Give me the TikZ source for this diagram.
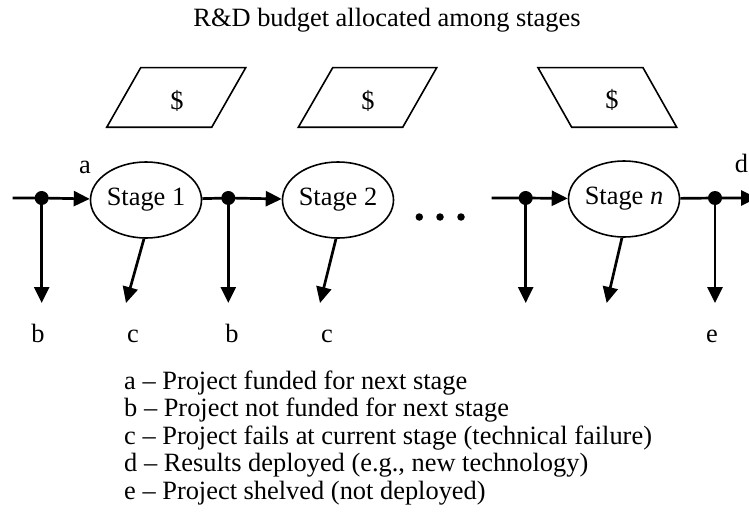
\documentclass[tikz,border=0pt]{standalone}
\usepackage{fontspec}
\setmainfont{Liberation Serif}
\usetikzlibrary{arrows.meta,shapes.geometric}
\begin{document}
\begin{tikzpicture}[x=1pt,y=-1pt,
  txt/.style={font=\fontsize{26.4}{28}\selectfont, inner sep=0pt},
  stagebox/.style={ellipse, draw, line width=1.6pt, minimum width=111pt, minimum height=76pt, inner sep=0pt, font=\fontsize{26.4}{28}\selectfont},
  flow/.style={line width=2.7pt, -{Triangle[length=16pt,width=15pt]}},
  junc/.style={circle, fill, inner sep=0pt, minimum size=14pt},
  para/.style={line width=1.6pt, line join=miter},
  ell/.style={circle, fill, inner sep=0pt, minimum size=7.5pt}]
\useasboundingbox (0,0) rectangle (749,516);

% title
\node[txt, anchor=base] (title) at (387,27) {R\&D budget allocated among stages};

% budget parallelograms
\draw[para] (106.7,127.3) -- (211.7,127.3) -- (245.7,67.7) -- (140.7,67.7) -- cycle;
\node[txt] (p1) at (177,101) {\$};
\draw[para] (298.3,127.3) -- (402.7,127.3) -- (436.7,67.7) -- (332.7,67.7) -- cycle;
\node[txt] (p2) at (368,101) {\$};
\draw[para] (538,67.7) -- (643,67.7) -- (676.7,127.3) -- (571.7,127.3) -- cycle;
\node[txt] (pn) at (612,100) {\$};

% stages
\node[stagebox] (s1) at (146,200) {Stage 1};
\node[stagebox] (s2) at (338,200) {Stage 2};
\node[stagebox] (sn) at (624,199) {Stage \textit{n}};

% junctions and free ends
\coordinate (in1) at (12.7,198);
\node[junc] (j1) at (41.7,198) {};
\node[junc] (j2) at (228.3,198) {};
\coordinate (in3) at (491.7,198);
\node[junc] (j3) at (525.7,198) {};
\node[junc] (j4) at (715,198) {};
\coordinate (out) at (757,198);

\coordinate (b1) at (41.7,303);
\coordinate (c1) at (126,303);
\coordinate (b2) at (228.3,303);
\coordinate (c2) at (320,303);
\coordinate (b3) at (525.7,303);
\coordinate (c3) at (606.7,303);
\coordinate (e1) at (715,303);

% main flow
\draw[flow] (in1) -- (j1.center) -- (s1);
\draw[flow] (s1) -- (j2.center) -- (s2);
\draw[flow] (in3) -- (j3.center) -- (sn);
\draw[flow] (sn) -- (j4.center) -- (out);

% downward exits
\draw[flow] (j1.center) -- (b1);
\draw[flow] (j2.center) -- (b2);
\draw[flow] (j3.center) -- (b3);
\draw[flow] (j4.center) -- (e1);
\draw[flow] (s1.-93) -- (c1);
\draw[flow] (s2.-93) -- (c2);
\draw[flow] (sn.-93) -- (c3);

% ellipsis
\node[ell] (d1) at (419.3,217) {};
\node[ell] (d2) at (440,217) {};
\node[ell] (d3) at (461,217) {};

% labels
\node[txt, anchor=base] (la) at (85,173) {a};
\node[txt, anchor=base] (ld) at (741.5,172) {d};
\node[txt, anchor=base] (lb1) at (38,342) {b};
\node[txt, anchor=base] (lc1) at (133,342) {c};
\node[txt, anchor=base] (lb2) at (232,342) {b};
\node[txt, anchor=base] (lc2) at (327,342) {c};
\node[txt, anchor=base] (le) at (712,342) {e};

% legend
\node[txt, anchor=base west] (l1) at (124,389) {a -- Project funded for next stage};
\node[txt, anchor=base west] (l2) at (124,416.5) {b -- Project not funded for next stage};
\node[txt, anchor=base west] (l3) at (124,444) {c -- Project fails at current stage (technical failure)};
\node[txt, anchor=base west] (l4) at (124,471.5) {d -- Results deployed (e.g., new technology)};
\node[txt, anchor=base west] (l5) at (124,499) {e -- Project shelved (not deployed)};
\end{tikzpicture}
\end{document}
